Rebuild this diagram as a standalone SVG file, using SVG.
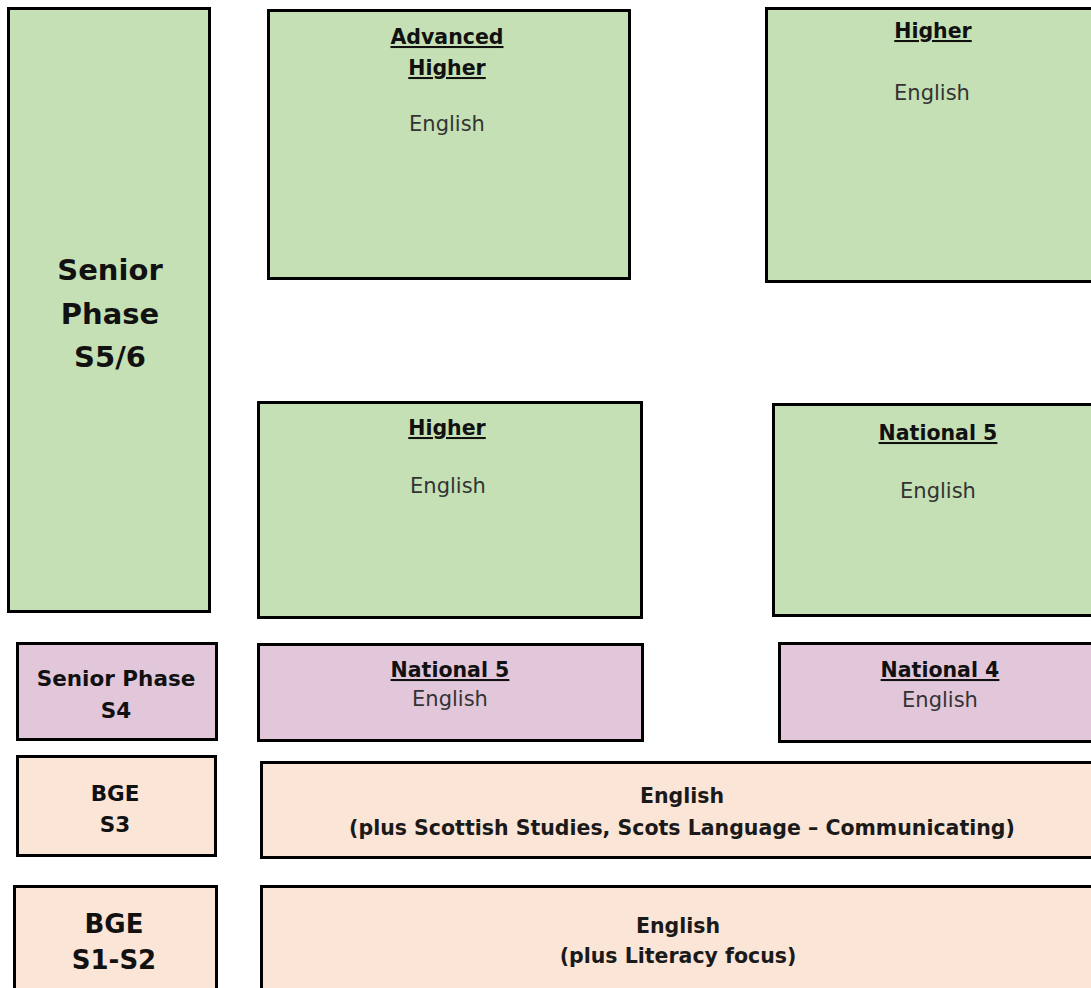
<svg xmlns="http://www.w3.org/2000/svg" width="1091" height="988" viewBox="0 0 1091 988">
<style>
  .box { stroke: #000; stroke-width: 3; }
  .green { fill: #c5e0b4; }
  .pink { fill: #e2c7da; }
  .peach { fill: #fbe5d6; }
  text { font-family: "DejaVu Sans", "Liberation Sans", sans-serif; text-anchor: middle; }
  .big { font-weight: bold; font-size: 29px; fill: #111; }
  .lab { font-weight: bold; font-size: 21.5px; fill: #111; }
  .lab2 { font-weight: bold; font-size: 26px; fill: #111; }
  .title { font-weight: bold; font-size: 20.5px; fill: #111; text-decoration: underline; }
  .body { font-size: 21px; fill: #333; }
  .wide { font-weight: bold; font-size: 20.5px; fill: #1a1a1a; }
</style>
<rect width="1091" height="988" fill="#fff"/>
<g id="senior-s56">
  <rect class="box green" x="8.5" y="8.5" width="201" height="603"/>
  <text class="big" x="110" y="280">Senior</text>
  <text class="big" x="110" y="324">Phase</text>
  <text class="big" x="110" y="367">S5/6</text>
</g>
<g id="advanced-higher">
  <rect class="box green" x="268.5" y="10.5" width="361" height="268"/>
  <text class="title" x="447" y="44">Advanced</text>
  <text class="title" x="447" y="75">Higher</text>
  <text class="body" x="447" y="131">English</text>
</g>
<g id="higher-top">
  <rect class="box green" x="766.5" y="8.5" width="400" height="273"/>
  <text class="title" x="933" y="38">Higher</text>
  <text class="body" x="932" y="100">English</text>
</g>
<g id="higher-mid">
  <rect class="box green" x="258.5" y="402.5" width="383" height="215"/>
  <text class="title" x="447" y="435">Higher</text>
  <text class="body" x="448" y="493">English</text>
</g>
<g id="national5-green">
  <rect class="box green" x="773.5" y="404.5" width="400" height="211"/>
  <text class="title" x="938" y="440">National 5</text>
  <text class="body" x="938" y="498">English</text>
</g>
<g id="senior-s4">
  <rect class="box pink" x="17.5" y="643.5" width="199" height="96"/>
  <text class="lab" x="116" y="686">Senior Phase</text>
  <text class="lab" x="116" y="718">S4</text>
</g>
<g id="national5-pink">
  <rect class="box pink" x="258.5" y="644.5" width="384" height="96"/>
  <text class="title" x="450" y="677">National 5</text>
  <text class="body" x="450" y="706">English</text>
</g>
<g id="national4">
  <rect class="box pink" x="779.5" y="643.5" width="400" height="98"/>
  <text class="title" x="940" y="677">National 4</text>
  <text class="body" x="940" y="707">English</text>
</g>
<g id="bge-s3">
  <rect class="box peach" x="17.5" y="756.5" width="198" height="99"/>
  <text class="lab" x="115" y="801">BGE</text>
  <text class="lab" x="115" y="832">S3</text>
</g>
<g id="english-s3">
  <rect class="box peach" x="261.5" y="762.5" width="900" height="95"/>
  <text class="wide" x="682" y="803">English</text>
  <text class="wide" x="682" y="835">(plus Scottish Studies, Scots Language – Communicating)</text>
</g>
<g id="bge-s1s2">
  <rect class="box peach" x="14.5" y="886.5" width="202" height="200"/>
  <text class="lab2" x="114" y="933">BGE</text>
  <text class="lab2" x="114" y="969">S1-S2</text>
</g>
<g id="english-s1s2">
  <rect class="box peach" x="261.5" y="886.5" width="900" height="200"/>
  <text class="wide" x="678" y="933">English</text>
  <text class="wide" x="678" y="963">(plus Literacy focus)</text>
</g>
<g id="connectors"></g>
</svg>
